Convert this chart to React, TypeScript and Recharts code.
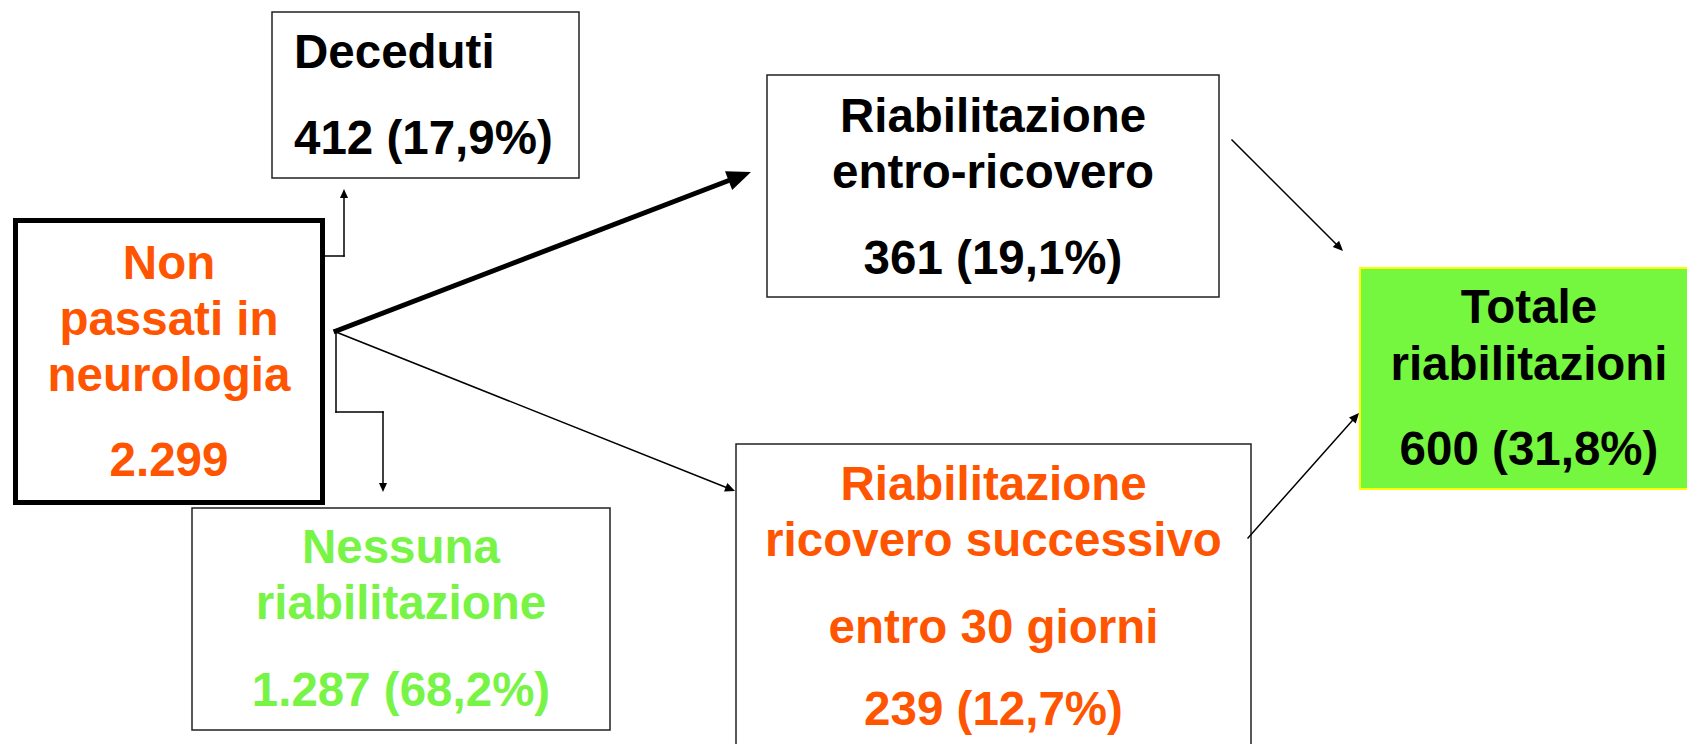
import { ComposedChart, XAxis, YAxis, ReferenceArea, ReferenceLine } from 'recharts'

// flow values
const nodeIds = ['origine', 'deceduti', 'entro', 'successivo', 'nessuna', 'totale']
const nodeTitles = [
  ['Non', 'passati in', 'neurologia'],
  ['Deceduti'],
  ['Riabilitazione', 'entro-ricovero'],
  ['Riabilitazione', 'ricovero successivo', 'entro 30 giorni'],
  ['Nessuna', 'riabilitazione'],
  ['Totale', 'riabilitazioni'],
]
const nodeCounts = ['2.299', '412', '361', '239', '1.287', '600']
const nodePercents = ['', '17,9%', '19,1%', '12,7%', '68,2%', '31,8%']

const W = 1687
const H = 744
const ORANGE = '#ff5500'
const GREEN_TXT = '#77f446'
const FONT = '"Liberation Sans", Arial, sans-serif'

// layout of each box in page pixels (x1, x2, y1, y2) + text baselines from box top
const layout: Record<string, any> = {
  origine: { x1: 15.5, x2: 322.5, y1: 220.5, y2: 502.5, sw: 5, stroke: '#000', fill: '#fff', color: ORANGE, base: [58, 114, 170, 255], anchor: 'middle' },
  deceduti: { x1: 272, x2: 579, y1: 12, y2: 178, sw: 1.5, stroke: '#222', fill: '#fff', color: '#000', base: [56, 142], anchor: 'start', dx: 22 },
  entro: { x1: 767, x2: 1219, y1: 75, y2: 297, sw: 1.5, stroke: '#222', fill: '#fff', color: '#000', base: [57, 113, 199], anchor: 'middle' },
  successivo: { x1: 736, x2: 1251, y1: 444, y2: 770, sw: 1.5, stroke: '#222', fill: '#fff', color: ORANGE, base: [56, 112, 199, 281], anchor: 'middle' },
  nessuna: { x1: 192, x2: 610, y1: 508, y2: 730, sw: 1.5, stroke: '#222', fill: '#fff', color: GREEN_TXT, base: [55, 111, 198], anchor: 'middle' },
  totale: { x1: 1360, x2: 1698, y1: 268, y2: 489, sw: 2, stroke: '#ffff00', fill: '#75f63f', color: '#000', base: [55, 112, 197], anchor: 'middle' },
}

// connectors: list of points, last segment gets the arrow head
const links = [
  { pts: [[323, 256], [344, 256], [344, 189]], w: 1.5, head: [9, 4] },
  { pts: [[336, 332], [336, 412], [383, 412], [383, 492]], w: 1.5, head: [9, 4] },
  { pts: [[336, 331], [751, 172]], w: 5, head: [24, 10] },
  { pts: [[336, 332], [735, 491]], w: 1.5, head: [10, 4.5] },
  { pts: [[1232, 140], [1343, 251]], w: 1.5, head: [10, 4.5] },
  { pts: [[1248, 538], [1359, 413]], w: 1.5, head: [10, 4.5] },
]

const Segment = ({ x1, y1, x2, y2, stroke, strokeWidth, head }: any) => {
  const dx = x2 - x1
  const dy = y2 - y1
  const len = Math.sqrt(dx * dx + dy * dy) || 1
  const ux = dx / len
  const uy = dy / len
  let lineEnd = [x2, y2]
  let poly = null
  if (head) {
    const [hl, hw] = head
    const bx = x2 - ux * hl
    const by = y2 - uy * hl
    lineEnd = [x2 - ux * hl * 0.6, y2 - uy * hl * 0.6]
    poly = (
      <polygon
        points={`${x2},${y2} ${bx - uy * hw},${by + ux * hw} ${bx + uy * hw},${by - ux * hw}`}
        fill={stroke}
      />
    )
  }
  return (
    <g>
      <line x1={x1} y1={y1} x2={lineEnd[0]} y2={lineEnd[1]} stroke={stroke} strokeWidth={strokeWidth} strokeLinecap="square" />
      {poly}
    </g>
  )
}

const BoxText = ({ viewBox, lines, cfg }: any) => {
  if (!viewBox) return null
  const { x, y, width } = viewBox
  const tx = cfg.anchor === 'start' ? x + cfg.dx : x + width / 2
  return (
    <g>
      {lines.map((t: string, i: number) => (
        <text
          key={i}
          x={tx}
          y={y + cfg.base[i]}
          textAnchor={cfg.anchor}
          fill={cfg.color}
          fontFamily={FONT}
          fontWeight="bold"
          fontSize={47.5}
        >
          {t}
        </text>
      ))}
    </g>
  )
}

export default function App() {
  return (
    <div style={{ width: W, height: H, background: '#fff' }}>
      <style>{'body{margin:0}'}</style>
      <ComposedChart width={W} height={H} margin={{ top: 0, right: 0, bottom: 0, left: 0 }} data={[]}>
        <XAxis type="number" dataKey="x" domain={[0, W]} hide allowDataOverflow />
        <YAxis type="number" domain={[0, H]} reversed hide allowDataOverflow />
        {nodeIds.map((id, i) => {
          const c = layout[id]
          const lines = [...nodeTitles[i], nodeCounts[i] + (nodePercents[i] ? ` (${nodePercents[i]})` : '')]
          return (
            <ReferenceArea
              key={id}
              x1={c.x1}
              x2={c.x2}
              y1={c.y1}
              y2={c.y2}
              fill={c.fill}
              fillOpacity={1}
              stroke={c.stroke}
              strokeWidth={c.sw}
              ifOverflow="visible"
              label={(p: any) => <BoxText viewBox={p.viewBox} lines={lines} cfg={c} />}
            />
          )
        })}
        {links.flatMap((l, i) =>
          l.pts.slice(1).map((p, j) => {
            const a = l.pts[j]
            const last = j === l.pts.length - 2
            return (
              <ReferenceLine
                key={`${i}-${j}`}
                segment={[{ x: a[0], y: a[1] }, { x: p[0], y: p[1] }]}
                stroke="#000"
                strokeWidth={l.w}
                ifOverflow="visible"
                shape={(props: any) => <Segment {...props} head={last ? l.head : null} />}
              />
            )
          })
        )}
      </ComposedChart>
    </div>
  )
}
